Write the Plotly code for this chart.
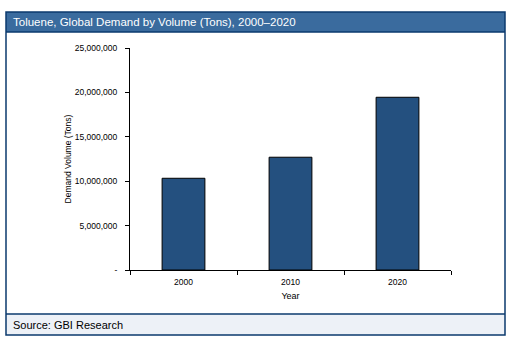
import plotly.graph_objects as go

years = ["2000", "2010", "2020"]
demand = [10330000, 12700000, 19450000]
ytick_vals = [0, 5000000, 10000000, 15000000, 20000000, 25000000]
ytick_text = ["-", "5,000,000", "10,000,000", "15,000,000", "20,000,000", "25,000,000"]

W, H = 518, 347
L, R, T, B = 130, 451, 48, 270

def px(X):
    return (X - L) / (R - L)

def py(Y):
    return (B - Y) / (B - T)

fig = go.Figure()
fig.add_trace(go.Bar(
    x=years, y=demand,
    marker=dict(color="#24507F", line=dict(color="#000000", width=1)),
    width=0.4,
))

shapes = [
    dict(type="rect", xref="paper", yref="paper", x0=px(6), x1=px(505), y0=py(12), y1=py(32),
         fillcolor="#3A6B9E", line=dict(width=0), layer="below"),
    dict(type="rect", xref="paper", yref="paper", x0=px(6), x1=px(505), y0=py(314), y1=py(335),
         fillcolor="#EDF1F7", line=dict(width=0), layer="below"),
    dict(type="line", xref="paper", yref="paper", x0=px(6), x1=px(505), y0=py(314), y1=py(314),
         line=dict(color="#0B3A6E", width=1.5)),
    dict(type="line", xref="paper", yref="paper", x0=px(6), x1=px(505), y0=py(32), y1=py(32),
         line=dict(color="#0B3A6E", width=1.5)),
    dict(type="rect", xref="paper", yref="paper", x0=px(6), x1=px(505), y0=py(12), y1=py(335),
         line=dict(color="#0B3A6E", width=1.5)),
]

annotations = [
    dict(text="Toluene, Global Demand by Volume (Tons), 2000–2020", xref="paper", yref="paper",
         x=px(11), y=py(22), xanchor="left", yanchor="middle", showarrow=False,
         font=dict(family="Liberation Sans, Arial", size=11.5, color="white")),
    dict(text="Source: GBI Research", xref="paper", yref="paper",
         x=px(11), y=py(325), xanchor="left", yanchor="middle", showarrow=False,
         font=dict(family="Liberation Sans, Arial", size=11, color="#000000")),
]

fig.update_layout(
    width=W, height=H,
    margin=dict(l=L, r=W - R, t=T, b=H - B, pad=0),
    paper_bgcolor="white", plot_bgcolor="white",
    showlegend=False,
    shapes=shapes, annotations=annotations,
    font=dict(family="Liberation Sans, Arial", size=8.5, color="#000000"),
    xaxis=dict(
        type="category", range=[-0.5, 2.5], showline=True, linecolor="black", linewidth=1,
        ticks="outside", tickson="boundaries", ticklen=4, tickcolor="black",
        showgrid=False, title=dict(text="Year", font=dict(size=9), standoff=6),
        tickfont=dict(size=8.5), ticklabelstandoff=4,
    ),
    yaxis=dict(
        range=[0, 25000000], tickvals=ytick_vals, ticktext=ytick_text,
        showline=True, linecolor="black", linewidth=1, ticks="outside", ticklen=4,
        tickcolor="black", showgrid=False, zeroline=False,
        title=dict(text="Demand Volume (Tons)", font=dict(size=8.5), standoff=1),
        tickfont=dict(size=8.5), ticklabelstandoff=6,
    ),
)

fig.write_html("out.html")
